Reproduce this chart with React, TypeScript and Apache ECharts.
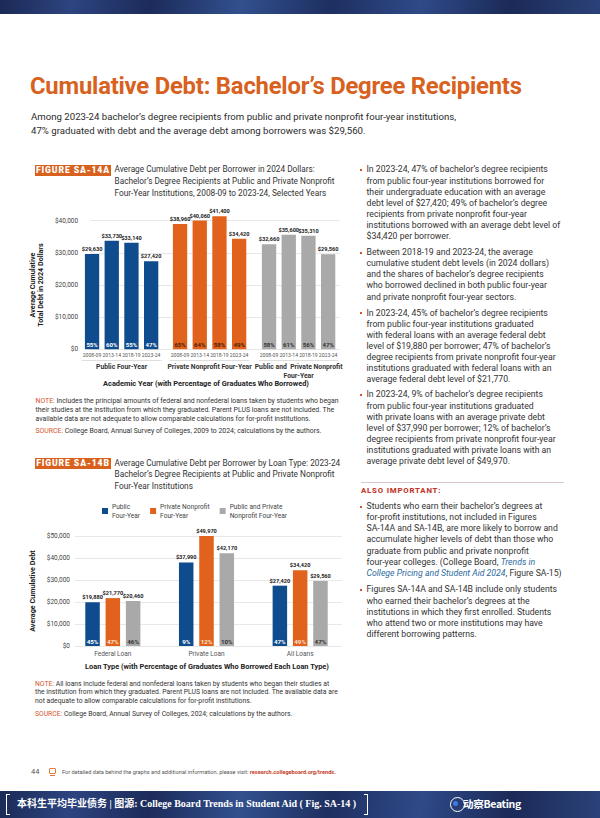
import React, { useEffect, useRef } from 'react';
import * as echarts from 'echarts';

const FONT = 'Roboto, "Noto Sans", Arial, sans-serif';
const BLUE = '#0F4C8D';
const ORANGE = '#E0621C';
const GRAY = '#A9A9A9';
const TITLE_ORANGE = '#D8611E';
const NOTE_RED = '#D5542C';
const TEXT = '#333333';

// ---------- Figure SA-14A data ----------
const yearsA = ['2008-09', '2013-14', '2018-19', '2023-24'];
const sectorsA = ['Public Four-Year', 'Private Nonprofit Four-Year', 'Public and  Private Nonprofit\nFour-Year'];
const publicDebtA = [29630, 33730, 33140, 27420];
const privateDebtA = [38960, 40060, 41400, 34420];
const combinedDebtA = [32660, 35600, 35310, 29560];
const publicPctA = [55, 60, 55, 47];
const privatePctA = [65, 64, 58, 49];
const combinedPctA = [58, 61, 56, 47];
const yTicksA = [0, 10000, 20000, 30000, 40000];

// ---------- Figure SA-14B data ----------
const loanTypesB = ['Federal Loan', 'Private Loan', 'All Loans'];
const seriesNamesB = ['Public\nFour-Year', 'Private Nonprofit\nFour-Year', 'Public and Private\nNonprofit Four-Year'];
const publicDebtB = [19880, 37990, 27420];
const privateDebtB = [21770, 49970, 34420];
const combinedDebtB = [20460, 42170, 29560];
const publicPctB = [45, 9, 47];
const privatePctB = [47, 12, 49];
const combinedPctB = [46, 10, 47];
const yTicksB = [0, 10000, 20000, 30000, 40000, 50000];

const money = (v: number) => '$' + v.toLocaleString('en-US');

function useChart(build: () => any) {
  const ref = useRef<HTMLDivElement>(null);
  useEffect(() => {
    const chart = echarts.init(ref.current!, null, { renderer: 'svg' });
    chart.setOption(build());
    return () => chart.dispose();
  }, []);
  return ref;
}

function ChartA() {
  const ref = useChart(() => {
    const top = 20.7;
    const height = 128.6;
    const groupLefts = [62.2, 150.2, 239.2];
    const groupWidth = 78.8;
    const min = yTicksA[0];
    const max = yTicksA[yTicksA.length - 1];
    const sets = [
      { values: publicDebtA, pct: publicPctA, color: BLUE, pctColor: '#ffffff' },
      { values: privateDebtA, pct: privatePctA, color: ORANGE, pctColor: '#4a1f08' },
      { values: combinedDebtA, pct: combinedPctA, color: GRAY, pctColor: '#333333' },
    ];
    const grid: any[] = [{ left: 62, top, width: 258, height }];
    groupLefts.forEach((l) => grid.push({ left: l, top, width: groupWidth, height }));
    const xAxis: any[] = [{ gridIndex: 0, type: 'category', data: [''], show: false }];
    const yAxis: any[] = [
      {
        gridIndex: 0,
        type: 'value',
        min,
        max,
        interval: yTicksA[1] - yTicksA[0],
        axisLine: { show: false },
        axisTick: { show: false },
        axisLabel: { formatter: (v: number) => money(v), fontSize: 6.5, color: '#444', margin: 12, fontFamily: FONT },
        splitLine: { lineStyle: { color: '#e2e2e2', width: 0.8 } },
        name: 'Average Cumulative\nTotal Debt in 2024 Dollars',
        nameLocation: 'middle',
        nameRotate: 90,
        nameGap: 33,
        nameTextStyle: { fontSize: 7.2, fontWeight: 'bold', color: '#222', lineHeight: 8, fontFamily: FONT },
      },
    ];
    const series: any[] = [];
    sets.forEach((s, i) => {
      const g = i + 1;
      xAxis.push({
        gridIndex: g,
        type: 'category',
        data: yearsA,
        axisLine: { show: false },
        axisTick: { show: false },
        axisLabel: { interval: 0, fontSize: 5.1, color: '#555', margin: 3.5, fontFamily: FONT },
        name: sectorsA[i],
        nameLocation: 'middle',
        nameGap: 14,
        nameTextStyle: { fontSize: 6.8, fontWeight: 'bold', color: '#333', lineHeight: 8.3, fontFamily: FONT },
      });
      const xi = xAxis.length - 1;
      xAxis.push({
        gridIndex: g,
        type: 'category',
        data: [''],
        position: 'bottom',
        offset: 10.5,
        axisLine: { show: true, lineStyle: { color: '#d0d0d0', width: 0.7 } },
        axisTick: { show: false },
        axisLabel: { show: false },
      });
      yAxis.push({ gridIndex: g, type: 'value', min, max, show: false });
      series.push({
        type: 'bar',
        name: 'pct' + g,
        xAxisIndex: xi,
        yAxisIndex: g,
        stack: 'g' + g,
        barWidth: 14.3,
        z: 4,
        data: s.values.map(() => 0),
        itemStyle: { color: s.color },
        label: {
          show: true,
          position: 'insideBottom',
          distance: 1.5,
          formatter: (p: any) => s.pct[p.dataIndex] + '%',
          color: s.pctColor,
          fontSize: 6,
          fontWeight: 'bold',
          fontFamily: FONT,
        },
      });
      series.push({
        type: 'bar',
        name: 'debt' + g,
        xAxisIndex: xi,
        yAxisIndex: g,
        stack: 'g' + g,
        barWidth: 14.3,
        clip: false,
        data: s.values,
        itemStyle: { color: s.color },
        label: {
          show: true,
          position: 'top',
          distance: 2,
          formatter: (p: any) => money(p.value),
          color: '#222',
          fontSize: 5.6,
          fontWeight: 'bold',
          fontFamily: FONT,
        },
      });
    });
    return {
      animation: false,
      textStyle: { fontFamily: FONT },
      grid,
      xAxis,
      yAxis,
      series,
      graphic: [
        {
          type: 'text',
          x: 186,
          y: 183.5,
          style: {
            text: 'Academic Year (with Percentage of Graduates Who Borrowed)',
            textAlign: 'center',
            textVerticalAlign: 'middle',
            fontSize: 7.4,
            fontWeight: 'bold',
            fill: '#222',
            fontFamily: FONT,
          },
        },
      ],
    };
  });
  return <div ref={ref} style={{ position: 'absolute', left: 20, top: 200, width: 330, height: 195 }} />;
}

function ChartB() {
  const ref = useChart(() => {
    const top = 38;
    const height = 110;
    const min = yTicksB[0];
    const max = yTicksB[yTicksB.length - 1];
    const sets = [
      { values: publicDebtB, pct: publicPctB, color: BLUE, pctColor: '#ffffff' },
      { values: privateDebtB, pct: privatePctB, color: ORANGE, pctColor: '#fbe3d3' },
      { values: combinedDebtB, pct: combinedPctB, color: GRAY, pctColor: '#333333' },
    ];
    const series: any[] = [];
    sets.forEach((s, i) => {
      series.push({
        type: 'bar',
        name: 'pct' + i,
        xAxisIndex: 1,
        yAxisIndex: 1,
        stack: 's' + i,
        barWidth: 14.5,
        barGap: '40%',
        z: 4,
        data: s.values.map(() => 0),
        itemStyle: { color: s.color },
        label: {
          show: true,
          position: 'insideBottom',
          distance: 1.5,
          formatter: (p: any) => s.pct[p.dataIndex] + '%',
          color: s.pctColor,
          fontSize: 6.2,
          fontWeight: 'bold',
          fontFamily: FONT,
        },
      });
      series.push({
        type: 'bar',
        name: seriesNamesB[i],
        xAxisIndex: 1,
        yAxisIndex: 1,
        stack: 's' + i,
        barWidth: 14.5,
        barGap: '40%',
        data: s.values,
        itemStyle: { color: s.color },
        label: {
          show: true,
          position: 'top',
          distance: 2,
          formatter: (p: any) => money(p.value),
          color: '#222',
          fontSize: 5.6,
          fontWeight: 'bold',
          fontFamily: FONT,
        },
      });
    });
    return {
      animation: false,
      textStyle: { fontFamily: FONT },
      legend: {
        data: seriesNamesB,
        left: 77,
        top: -1,
        icon: 'rect',
        itemWidth: 6,
        itemHeight: 6,
        itemGap: 10,
        textStyle: { fontSize: 6.6, color: '#444', lineHeight: 9, fontFamily: FONT, padding: [0, 0, 0, -1] },
      },
      grid: [
        { left: 55, top, width: 267, height },
        { left: 46, top, width: 281, height },
      ],
      xAxis: [
        { gridIndex: 0, type: 'category', data: [''], show: false },
        {
          gridIndex: 1,
          type: 'category',
          data: loanTypesB,
          axisLine: { show: false },
          axisTick: { show: false },
          axisLabel: { fontSize: 6.5, color: '#555', margin: 4.5, fontFamily: FONT },
        },
      ],
      yAxis: [
        {
          gridIndex: 0,
          type: 'value',
          min,
          max,
          interval: yTicksB[1] - yTicksB[0],
          axisLine: { show: false },
          axisTick: { show: false },
          axisLabel: { formatter: (v: number) => money(v), fontSize: 6.5, color: '#444', margin: 5, fontFamily: FONT },
          splitLine: { lineStyle: { color: '#e2e2e2', width: 0.8 } },
          name: 'Average Cumulative Debt',
          nameLocation: 'middle',
          nameRotate: 90,
          nameGap: 32.5,
          nameTextStyle: { fontSize: 7.2, fontWeight: 'bold', color: '#222', fontFamily: FONT },
        },
        { gridIndex: 1, type: 'value', min, max, show: false },
      ],
      series,
      graphic: [
        {
          type: 'text',
          x: 187,
          y: 168,
          style: {
            text: 'Loan Type (with Percentage of Graduates Who Borrowed Each Loan Type)',
            textAlign: 'center',
            textVerticalAlign: 'middle',
            fontSize: 7.4,
            fontWeight: 'bold',
            fill: '#222',
            fontFamily: FONT,
          },
        },
      ],
    };
  });
  return <div ref={ref} style={{ position: 'absolute', left: 20, top: 498, width: 330, height: 178 }} />;
}

type LinesProps = { x: number; y: number; lh: number; size: number; lines: React.ReactNode[]; style?: React.CSSProperties };
function Lines({ x, y, lh, size, lines, style }: LinesProps) {
  return (
    <div style={{ position: 'absolute', left: x, top: y - lh / 2, fontSize: size, lineHeight: lh + 'px', color: TEXT, ...style }}>
      {lines.map((l, i) => (
        <div key={i} style={{ whiteSpace: 'nowrap' }}>
          {l}
        </div>
      ))}
    </div>
  );
}

function Bullet({ x, y }: { x: number; y: number }) {
  return <div style={{ position: 'absolute', left: x, top: y - 1, width: 2.2, height: 2.2, background: NOTE_RED }} />;
}

const BR = 8.7; // right column font size
const RLH = 11.1;
const RX = 366.5;

function Para({ y, lines }: { y: number; lines: React.ReactNode[] }) {
  return (
    <>
      <Bullet x={360} y={y} />
      <Lines x={RX} y={y} lh={RLH} size={BR} lines={lines} />
    </>
  );
}

function FigLabel({ x, y, text }: { x: number; y: number; text: string }) {
  return (
    <div
      style={{
        position: 'absolute',
        left: x,
        top: y - 5.5,
        height: 11,
        width: 76,
        background: TITLE_ORANGE,
        color: '#fff',
        fontWeight: 900,
        fontSize: 8.6,
        letterSpacing: 0.9,
        lineHeight: '11px',
        textAlign: 'center',
        whiteSpace: 'nowrap',
      }}
    >
      {text}
    </div>
  );
}

const band = 'linear-gradient(100deg, #1b2a56 0%, #2d4480 12%, #1c2b5a 25%, #32508e 40%, #1e2f61 55%, #2f4a88 70%, #1b2a57 85%, #2b4279 100%)';

export default function App() {
  return (
    <div
      style={{
        position: 'fixed',
        left: 0,
        top: 0,
        width: 600,
        height: 818,
        background: '#ffffff',
        overflow: 'hidden',
        fontFamily: FONT,
      }}
    >
      {/* header band */}
      <div style={{ position: 'absolute', left: 0, top: 0, width: 600, height: 14, background: band }} />

      {/* title */}
      <div
        style={{
          position: 'absolute',
          left: 30,
          top: 72.5,
          fontSize: 23.8,
          lineHeight: '26px',
          fontWeight: 700,
          color: TITLE_ORANGE,
          whiteSpace: 'nowrap',
          letterSpacing: -0.2,
        }}
      >
        Cumulative Debt: Bachelor’s Degree Recipients
      </div>
      <Lines
        x={31}
        y={117}
        lh={13.4}
        size={9.65}
        style={{ color: '#2b2b2b' }}
        lines={[
          'Among 2023-24 bachelor’s degree recipients from public and private nonprofit four-year institutions,',
          '47% graduated with debt and the average debt among borrowers was $29,560.',
        ]}
      />

      {/* Figure A header */}
      <FigLabel x={35} y={170} text="FIGURE SA-14A" />
      <Lines
        x={114.5}
        y={170.3}
        lh={11.7}
        size={8.25}
        lines={[
          'Average Cumulative Debt per Borrower in 2024 Dollars:',
          'Bachelor’s Degree Recipients at Public and Private Nonprofit',
          'Four-Year Institutions, 2008-09 to 2023-24, Selected Years',
        ]}
      />
      <ChartA />
      <Lines
        x={35.5}
        y={401.7}
        lh={8.6}
        size={6.9}
        lines={[
          <span>
            <span style={{ color: NOTE_RED }}>NOTE:</span> Includes the principal amounts of federal and nonfederal loans taken by students who began
          </span>,
          'their studies at the institution from which they graduated. Parent PLUS loans are not included. The',
          'available data are not adequate to allow comparable calculations for for-profit institutions.',
        ]}
      />
      <Lines
        x={35.5}
        y={431.5}
        lh={8.6}
        size={6.9}
        lines={[
          <span>
            <span style={{ color: NOTE_RED }}>SOURCE:</span> College Board, Annual Survey of Colleges, 2009 to 2024; calculations by the authors.
          </span>,
        ]}
      />

      {/* Figure B header */}
      <FigLabel x={35} y={463.5} text="FIGURE SA-14B" />
      <Lines
        x={114.5}
        y={463.5}
        lh={11.7}
        size={8.25}
        lines={[
          'Average Cumulative Debt per Borrower by Loan Type: 2023-24',
          'Bachelor’s Degree Recipients at Public and Private Nonprofit',
          'Four-Year Institutions',
        ]}
      />
      <ChartB />
      <Lines
        x={35}
        y={684}
        lh={8.8}
        size={6.8}
        lines={[
          <span>
            <span style={{ color: NOTE_RED }}>NOTE:</span> All loans include federal and nonfederal loans taken by students who began their studies at
          </span>,
          'the institution from which they graduated. Parent PLUS loans are not included. The available data are',
          'not adequate to allow comparable calculations for for-profit institutions.',
        ]}
      />
      <Lines
        x={35}
        y={714.5}
        lh={8.8}
        size={6.8}
        lines={[
          <span>
            <span style={{ color: NOTE_RED }}>SOURCE:</span> College Board, Annual Survey of Colleges, 2024; calculations by the authors.
          </span>,
        ]}
      />

      {/* right column */}
      <Para
        y={170}
        lines={[
          'In 2023-24, 47% of bachelor’s degree recipients',
          'from public four-year institutions borrowed for',
          'their undergraduate education with an average',
          'debt level of $27,420; 49% of bachelor’s degree',
          'recipients from private nonprofit four-year',
          'institutions borrowed with an average debt level of',
          '$34,420 per borrower.',
        ]}
      />
      <Para
        y={252.7}
        lines={[
          'Between 2018-19 and 2023-24, the average',
          'cumulative student debt levels (in 2024 dollars)',
          'and the shares of bachelor’s degree recipients',
          'who borrowed declined in both public four-year',
          'and private nonprofit four-year sectors.',
        ]}
      />
      <Para
        y={313.3}
        lines={[
          'In 2023-24, 45% of bachelor’s degree recipients',
          'from public four-year institutions graduated',
          'with federal loans with an average federal debt',
          'level of $19,880 per borrower; 47% of bachelor’s',
          'degree recipients from private nonprofit four-year',
          'institutions graduated with federal loans with an',
          'average federal debt level of $21,770.',
        ]}
      />
      <Para
        y={395}
        lines={[
          'In 2023-24, 9% of bachelor’s degree recipients',
          'from public four-year institutions graduated',
          'with private loans with an average private debt',
          'level of $37,990 per borrower; 12% of bachelor’s',
          'degree recipients from private nonprofit four-year',
          'institutions graduated with private loans with an',
          'average private debt level of $49,970.',
        ]}
      />
      <div style={{ position: 'absolute', left: 361, top: 481.5, width: 203, height: 1, background: '#dccaca' }} />
      <div
        style={{
          position: 'absolute',
          left: 361,
          top: 486,
          fontSize: 7.8,
          lineHeight: '10px',
          fontWeight: 800,
          letterSpacing: 0.8,
          color: '#C2372B',
          whiteSpace: 'nowrap',
        }}
      >
        ALSO IMPORTANT:
      </div>
      <Para
        y={506.7}
        lines={[
          'Students who earn their bachelor’s degrees at',
          'for-profit institutions, not included in Figures',
          'SA-14A and SA-14B, are more likely to borrow and',
          'accumulate higher levels of debt than those who',
          'graduate from public and private nonprofit',
          <span>
            four-year colleges. (College Board, <i style={{ color: '#2C6AA0' }}>Trends in</i>
          </span>,
          <span>
            <i style={{ color: '#2C6AA0' }}>College Pricing and Student Aid 2024</i>, Figure SA-15)
          </span>,
        ]}
      />
      <Para
        y={590}
        lines={[
          'Figures SA-14A and SA-14B include only students',
          'who earned their bachelor’s degrees at the',
          'institutions in which they first enrolled. Students',
          'who attend two or more institutions may have',
          'different borrowing patterns.',
        ]}
      />

      {/* footer */}
      <div style={{ position: 'absolute', left: 31, top: 767, fontSize: 7.5, lineHeight: '10px', color: '#555' }}>44</div>
      <div style={{ position: 'absolute', left: 48.5, top: 767.5, width: 5.5, height: 4.5, border: '1px solid #E07A3A', borderRadius: 1 }} />
      <div style={{ position: 'absolute', left: 50, top: 774.5, width: 4.5, height: 1, background: '#E07A3A' }} />
      <div style={{ position: 'absolute', left: 62, top: 767.5, fontSize: 5.6, lineHeight: '9px', color: '#555', whiteSpace: 'nowrap' }}>
        For detailed data behind the graphs and additional information, please visit:{' '}
        <span style={{ color: '#C2432B', fontWeight: 700 }}>research.collegeboard.org/trends.</span>
      </div>

      {/* bottom banner */}
      <div style={{ position: 'absolute', left: 0, top: 790.5, width: 600, height: 27.5, background: band }} />
      <div style={{ position: 'absolute', left: 6, top: 794, width: 3, height: 19, borderLeft: '1.3px solid #fff', borderTop: '1.3px solid #fff', borderBottom: '1.3px solid #fff' }} />
      <div style={{ position: 'absolute', left: 364, top: 794, width: 3, height: 19, borderRight: '1.3px solid #fff', borderTop: '1.3px solid #fff', borderBottom: '1.3px solid #fff' }} />
      <div
        style={{
          position: 'absolute',
          left: 17,
          top: 796,
          fontSize: 10,
          lineHeight: '16px',
          fontWeight: 700,
          color: '#fff',
          whiteSpace: 'nowrap',
          fontFamily: '"Liberation Serif", "Noto Sans CJK SC", serif',
        }}
      >
        本科生平均毕业债务 | 图源: College Board Trends in Student Aid ( Fig. SA-14 )
      </div>
      <div style={{ position: 'absolute', left: 450, top: 796.5, width: 13, height: 13, borderRadius: '50%', border: '1.5px solid #fff' }} />
      <div style={{ position: 'absolute', left: 453, top: 801, width: 5, height: 5, borderRadius: '50%', background: '#3d7be0' }} />
      <div
        style={{
          position: 'absolute',
          left: 463,
          top: 797,
          fontSize: 10.5,
          lineHeight: '14px',
          fontWeight: 700,
          color: '#fff',
          whiteSpace: 'nowrap',
          letterSpacing: -0.3,
          fontFamily: '"Noto Sans CJK SC", Roboto, sans-serif',
        }}
      >
        动察Beating
      </div>
    </div>
  );
}
